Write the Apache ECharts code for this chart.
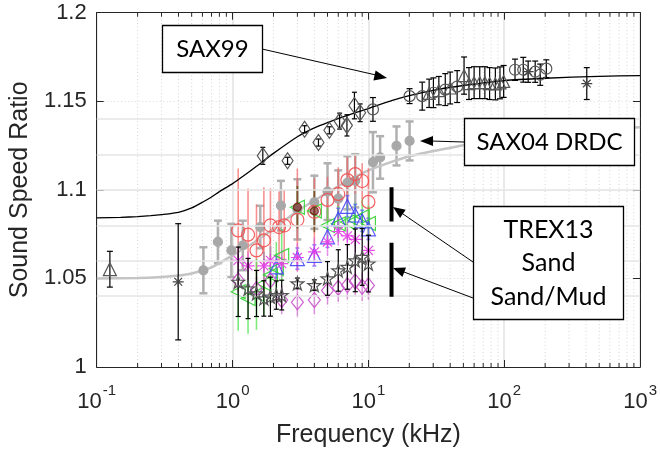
<!DOCTYPE html>
<html><head><meta charset="utf-8">
<script src="https://cdn.jsdelivr.net/npm/echarts@6/dist/echarts.min.js"></script>
<style>html,body{margin:0;padding:0;background:#fff}#c{width:660px;height:453px}</style>
</head><body><div id="c"></div>
<script>
// ---------- data (frequency kHz, sound speed ratio, error half-width) ----------
const sax99Curve = [[0.1,1.0842],[0.15,1.0845],[0.2,1.0849],[0.25,1.0854],[0.3,1.0860],[0.4,1.0873],[0.5,1.0898],[0.6,1.0930],[0.7,1.0960],[0.8,1.0990],[1,1.1035],[1.2,1.1078],[1.5,1.1133],[2,1.1206],[3,1.1300],[4,1.1350],[5,1.1380],[7,1.1420],[10,1.1459],[15,1.1505],[20,1.1532],[30,1.1562],[50,1.1589],[100,1.1617],[200,1.1630],[500,1.1641],[1000,1.1645]];
const sax04Curve = [[0.1,1.0499],[0.2,1.0502],[0.3,1.0508],[0.4,1.0516],[0.5,1.0528],[0.7,1.0562],[1,1.0630],[1.5,1.0713],[2,1.0780],[3,1.0880],[5,1.0985],[7,1.1050],[10,1.1110],[20,1.1190],[50,1.1252],[100,1.1297],[200,1.1325],[500,1.1342],[1000,1.1353]];

const sax99Diamonds = [[1.67,1.1192,0.0048],[2.54,1.1164,0.002],[3.39,1.1342,0.002],[4.29,1.1267,0.002],[5.16,1.1336,0.002],[6.14,1.1388,0.0045],[6.95,1.1364,0.006],[7.89,1.1476,0.0075],[8.69,1.1435,0.005]];
const sax99Circles = [[10.8,1.1454,0.0067],[20.1,1.1529,0.0042],[24.9,1.1529,0.0079],[30.1,1.1548,0.0084],[36.8,1.1566,0.009],[45.0,1.1583,0.009],[120,1.1678,0.006],[138,1.1678,0.007],[169,1.1667,0.006],[184,1.1650,0.006],[204,1.1684,0.005]];
const sax99Triangles = [[28,1.1545,0.008],[33,1.1560,0.008],[40,1.1575,0.009],[50.6,1.1645,0.0105],[55,1.1600,0.009],[60,1.1605,0.009],[66,1.1605,0.009],[72,1.1605,0.009],[78,1.1600,0.009],[86,1.1598,0.009],[93,1.1604,0.009],[99,1.1612,0.009]];
const sax99Stars = [[150,1.1667,0.006],[405,1.1600,0.009]];
const lowFreqStar = [[0.398,1.0481,0.0328]];
const lowFreqTriangle = [[0.125,1.0552,0.0101]];

const sax04Points = [[0.61,1.0546,0.013],[0.78,1.0706,0.012],[0.98,1.0658,0.015],[1.19,1.0686,0.014],[1.60,1.0790,0.012],[2.27,1.0911,0.014],[3.0,1.0890,0.017],[4.0,1.0930,0.015],[5.0,1.0990,0.016],[6.0,1.0950,0.016],[7.0,1.1040,0.015],[8.0,1.1051,0.015],[10.8,1.1156,0.017],[12.2,1.1183,0.012],[16.1,1.1248,0.011],[20.1,1.1276,0.011]];

const trexRedCircles = [[1.1,1.0771,0.035],[1.3,1.0747,0.026],[1.5,1.0658,0.026],[1.7,1.0715,0.03],[1.9,1.0799,0.021],[2.2,1.0790,0.02],[2.4,1.0799,0.02],[3.0,1.0831,0.029],[4.0,1.0876,0.019],[5.0,1.0943,0.013],[6.0,1.0977,0.015],[7.0,1.1055,0.013],[8.0,1.1089,0.011],[9.0,1.1050,0.01],[10.0,1.0932,0.019]];
const trexDarkRed = [[3.0,1.0902,0.012],[4.0,1.0881,0.012]];
const trexGreenTriangles = [[1.1,1.0425,0.022],[1.3,1.0387,0.02],[1.5,1.0410,0.02],[1.7,1.0470,0.018],[1.9,1.0520,0.016],[2.1,1.0556,0.015],[2.3,1.0630,0.015],[3.0,1.0902,0.012],[4.0,1.0881,0.012],[5.0,1.0799,0.01],[6.0,1.0808,0.01],[7.0,1.0819,0.01],[8.0,1.0827,0.01],[9.0,1.0850,0.01],[10.0,1.0810,0.01]];
const trexBlueTriangles = [[2.1,1.0565,0.006],[3.0,1.0612,0.006],[4.0,1.0630,0.006],[5.0,1.0735,0.006],[6.0,1.0836,0.006],[7.0,1.0907,0.006],[8.0,1.0858,0.006],[9.0,1.0825,0.006],[10.0,1.0780,0.006]];
const trexMagentaAsterisks = [[1.1,1.0602,0.008],[1.3,1.0571,0.008],[1.7,1.0571,0.008],[1.9,1.0602,0.008],[2.3,1.0584,0.008],[3.0,1.0618,0.008],[4.0,1.0650,0.008],[5.0,1.0706,0.008],[6.0,1.0765,0.008],[7.0,1.0740,0.008],[8.0,1.0720,0.008],[10.0,1.0658,0.008]];
const trexMagentaDiamonds = [[1.1,1.0490,0.007],[1.5,1.0440,0.007],[1.9,1.0490,0.007],[2.3,1.0378,0.008],[3.0,1.0365,0.008],[4.0,1.0378,0.008],[5.0,1.0432,0.008],[6.0,1.0447,0.008],[7.0,1.0462,0.008],[8.0,1.0483,0.008],[9.0,1.0453,0.008],[10.0,1.0460,0.008]];
const trexStars = [[1.1,1.0481,0.0196],[1.3,1.0443,0.017],[1.5,1.0415,0.013],[1.7,1.0387,0.010],[1.9,1.0397,0.011],[2.1,1.0406,0.008],[2.3,1.0406,0.0084],[3.0,1.0472,0.003],[4.0,1.0462,0.003],[5.0,1.0500,0.0095],[6.0,1.0545,0.0117],[7.0,1.0565,0.0126],[8.0,1.0602,0.0177],[9.0,1.0621,0.016],[10.0,1.0584,0.016]];

const trexSandBar = [[14.8,1.1014],[14.8,1.0821]];
const trexSandMudBar = [[14.8,1.0702],[14.8,1.0397]];

const overlayGridValues = [1.0383,1.0584,1.0786,1.0995,1.1197,1.1403];
const xMinorTicks = [0.2,0.3,0.4,0.5,0.6,0.7,0.8,0.9,2,3,4,5,6,7,8,9,20,30,40,50,60,70,80,90,200,300,400,500,600,700,800,900];
const yTicks = [1,1.05,1.1,1.15,1.2];

// ---------- chart ----------
const FONT = 'Liberation Sans';
const ANN = 'Lato';
const AXC = '#262626';
const chart = echarts.init(document.getElementById('c'), null, {renderer:'canvas'});
const yMin = 1, yMax = 1.2;

function errSeries(data, color, width, cap, z){
  return {type:'custom', coordinateSystem:'cartesian2d', z:z, silent:true, clip:false,
    data:data, encode:{x:0,y:1},
    renderItem:function(params, api){
      const f = api.value(0), v = api.value(1), e = api.value(2);
      const t = api.coord([f, v+e]), b = api.coord([f, v-e]);
      const ch = [{type:'line', shape:{x1:t[0],y1:t[1],x2:b[0],y2:b[1]}, style:{stroke:color, lineWidth:width}}];
      if (cap>0){
        ch.push({type:'line', shape:{x1:t[0]-cap,y1:t[1],x2:t[0]+cap,y2:t[1]}, style:{stroke:color, lineWidth:width}});
        ch.push({type:'line', shape:{x1:b[0]-cap,y1:b[1],x2:b[0]+cap,y2:b[1]}, style:{stroke:color, lineWidth:width}});
      }
      return {type:'group', children:ch};
    }};
}
function markers(data, symbol, size, stroke, fill, z, rotate, bw){
  return {type:'scatter', data:data.map(d=>[d[0],d[1]]), symbol:symbol, symbolSize:size, symbolRotate:rotate||0,
    z:z, silent:true, itemStyle:{color:fill, borderColor:stroke, borderWidth:bw||1.2, opacity:1}};
}
const ASTER = 'path://M5,0L5,10M0,5L10,5M1.5,1.5L8.5,8.5M1.5,8.5L8.5,1.5';
const STAR = 'path://M50,0L61.2,34.6L97.6,34.5L68.1,55.9L79.4,90.5L50,69L20.6,90.5L31.9,55.9L2.4,34.5L38.8,34.6Z';
const NONE = 'rgba(0,0,0,0)';

const series = [
  {type:'custom', z:0, silent:true, clip:false, data:xMinorTicks.map(v=>[v,1]), encode:{x:0,y:1},
    renderItem:function(params, api){
      const x = api.value(0);
      const b = api.coord([x,yMin]), t = api.coord([x,yMax]);
      return {type:'group', children:[
        {type:'line', shape:{x1:b[0],y1:b[1],x2:t[0],y2:t[1]}, style:{stroke:'#d4d4d4', lineWidth:1, lineDash:[1,2.5]}},
        {type:'line', shape:{x1:b[0],y1:b[1],x2:b[0],y2:b[1]-4}, style:{stroke:AXC, lineWidth:1}},
        {type:'line', shape:{x1:t[0],y1:t[1],x2:t[0],y2:t[1]+4}, style:{stroke:AXC, lineWidth:1}}
      ]};
    }},
  {type:'line', data:[], markLine:{silent:true, symbol:'none', label:{show:false},
    lineStyle:{color:'#e4e4e4', width:1.5, type:'solid'}, data:overlayGridValues.map(v=>({yAxis:v}))}},
  // SAX04 DRDC
  {type:'line', data:sax04Curve, smooth:0.2, symbol:'none', z:2, silent:true, lineStyle:{color:'#c4c4c4', width:2.5}},
  errSeries(sax04Points, '#b0b0b0', 2.5, 4, 2),
  markers(sax04Points, 'circle', 9, '#a8a8a8', '#a8a8a8', 3),
  // SAX99 curve
  {type:'line', data:sax99Curve, smooth:0.2, symbol:'none', z:5, silent:true, lineStyle:{color:'#000', width:1.3}},
  // TREX13
  errSeries(trexRedCircles, 'rgba(245,100,100,0.7)', 1.6, 0, 3),
  errSeries(trexGreenTriangles, 'rgba(70,225,70,0.7)', 1.6, 0, 3),
  errSeries(trexBlueTriangles, 'rgba(90,90,255,0.7)', 1.5, 2, 3),
  errSeries(trexMagentaAsterisks, 'rgba(225,90,225,0.65)', 1.5, 0, 3),
  errSeries(trexMagentaDiamonds, 'rgba(200,90,200,0.65)', 1.5, 0, 3),
  errSeries(trexDarkRed, 'rgba(140,30,30,0.7)', 1.5, 0, 3),
  markers(trexRedCircles, 'circle', 13, 'rgba(240,80,80,0.9)', NONE, 4),
  markers(trexGreenTriangles, 'triangle', 14, 'rgba(50,210,50,0.9)', NONE, 4, 90),
  markers(trexBlueTriangles, 'triangle', 14, 'rgba(70,70,255,0.9)', NONE, 4),
  markers(trexMagentaAsterisks, ASTER, 13, 'rgba(230,60,230,0.9)', NONE, 4),
  markers(trexMagentaDiamonds, 'diamond', [12,15], 'rgba(200,80,200,0.9)', NONE, 4),
  markers(trexDarkRed, 'circle', 8, 'rgba(120,20,20,0.8)', 'rgba(120,30,30,0.6)', 4),
  errSeries(trexStars, '#000', 1.2, 2.5, 5),
  markers(trexStars, STAR, 13, '#555', NONE, 5),
  {type:'line', data:trexSandBar, symbol:'none', z:6, silent:true, lineStyle:{color:'#000', width:4}},
  {type:'line', data:trexSandMudBar, symbol:'none', z:6, silent:true, lineStyle:{color:'#000', width:4}},
  // SAX99 data
  errSeries(sax99Diamonds, '#000', 1.2, 2.5, 6),
  errSeries(sax99Circles, '#000', 1.2, 3, 6),
  errSeries(sax99Triangles, '#000', 1.2, 3, 6),
  errSeries(sax99Stars, '#000', 1.2, 3, 6),
  errSeries(lowFreqStar, '#000', 1.2, 3, 6),
  errSeries(lowFreqTriangle, '#000', 1.2, 3, 6),
  markers(sax99Diamonds, 'diamond', [11,16], '#555', NONE, 7),
  markers(sax99Circles, 'circle', 11, '#555', NONE, 7),
  markers(sax99Triangles, 'triangle', 12, '#555', NONE, 7),
  markers(sax99Stars, ASTER, 11, '#444', NONE, 7),
  markers(lowFreqStar, ASTER, 11, '#444', NONE, 7),
  markers(lowFreqTriangle, 'triangle', 13, '#555', NONE, 7)
];

const labelRich = {
  b:{fontSize:22, fontFamily:FONT, color:AXC, lineHeight:30, verticalAlign:'bottom'},
  s:{fontSize:15, fontFamily:FONT, color:AXC, lineHeight:30, verticalAlign:'top', padding:[0,0,0,1]}
};

const option = {
  backgroundColor:'#fff',
  animation:false,
  grid:{left:94, right:17, top:12.7, bottom:84, containLabel:false},
  xAxis:[
    {type:'log', logBase:10, min:0.1, max:1000, position:'bottom',
     name:'Frequency (kHz)', nameLocation:'middle', nameGap:56,
     nameTextStyle:{fontFamily:FONT, fontSize:25, color:AXC},
     axisLine:{show:true, lineStyle:{color:AXC, width:1}},
     axisTick:{show:true, inside:true, length:7, lineStyle:{color:AXC}},
     axisLabel:{show:true, margin:16, formatter:function(v){ const e=Math.round(Math.log10(v)); return '{b|10}{s|'+e+'}'; }, rich:labelRich},
     splitLine:{show:true, lineStyle:{color:'#e2e2e2', width:1.5, type:'solid'}},
     minorTick:{show:false}},
    {type:'log', logBase:10, min:0.1, max:1000, position:'top',
     axisLine:{show:true, lineStyle:{color:AXC, width:1}},
     axisTick:{show:true, inside:true, length:7, lineStyle:{color:AXC}},
     axisLabel:{show:false}, splitLine:{show:false}}
  ],
  yAxis:[
    {type:'value', min:1, max:1.2, interval:0.05, position:'left',
     name:'Sound Speed Ratio', nameLocation:'middle', nameGap:51,
     nameTextStyle:{fontFamily:FONT, fontSize:25, color:AXC},
     axisLine:{show:true, lineStyle:{color:AXC, width:1}},
     axisTick:{show:true, inside:true, length:7, lineStyle:{color:AXC}},
     axisLabel:{margin:10, fontFamily:FONT, fontSize:22, color:AXC, formatter:v=>String(parseFloat(v.toFixed(2)))},
     splitLine:{show:true, lineStyle:{color:'#dadada', type:[1,2.5], width:1}}},
    {type:'value', min:1, max:1.2, interval:0.05, position:'right',
     axisLine:{show:true, lineStyle:{color:AXC, width:1}},
     axisTick:{show:true, inside:true, length:7, lineStyle:{color:AXC}},
     axisLabel:{show:false}, splitLine:{show:false}}
  ],
  series:series,
  graphic:[
    // SAX99 annotation
    {type:'line', z:20, shape:{x1:262,y1:49,x2:376,y2:75}, style:{stroke:'#000', lineWidth:1}},
    {type:'polygon', z:20, shape:{points:[[387,78],[373.4,80.4],[375.6,70.6]]}, style:{fill:'#000'}},
    {type:'rect', z:20, shape:{x:162.5,y:25.5,width:100,height:47}, style:{fill:'#fff', stroke:'#000', lineWidth:1.3}},
    {type:'text', z:21, x:212.5, y:49, style:{text:'SAX99', fontFamily:ANN, fontSize:24, fill:'#000', align:'center', verticalAlign:'middle'}},
    // SAX04 annotation
    {type:'line', z:20, shape:{x1:464,y1:142,x2:431,y2:141}, style:{stroke:'#000', lineWidth:1}},
    {type:'polygon', z:20, shape:{points:[[420,141],[433,136],[433,146]]}, style:{fill:'#000'}},
    {type:'rect', z:20, shape:{x:464.5,y:118.5,width:170,height:47}, style:{fill:'#fff', stroke:'#000', lineWidth:1.3}},
    {type:'text', z:21, x:549.5, y:142, style:{text:'SAX04 DRDC', fontFamily:ANN, fontSize:24, fill:'#000', align:'center', verticalAlign:'middle'}},
    // TREX13 annotation
    {type:'line', z:20, shape:{x1:473,y1:262,x2:403,y2:214}, style:{stroke:'#000', lineWidth:1}},
    {type:'polygon', z:20, shape:{points:[[393,207],[405.7,209.7],[400.1,217.9]]}, style:{fill:'#000'}},
    {type:'line', z:20, shape:{x1:473,y1:298,x2:404,y2:272}, style:{stroke:'#000', lineWidth:1}},
    {type:'polygon', z:20, shape:{points:[[393,268],[406,267.5],[402.4,276.9]]}, style:{fill:'#000'}},
    {type:'rect', z:20, shape:{x:473.5,y:206.5,width:150,height:113}, style:{fill:'#fff', stroke:'#000', lineWidth:1.3}},
    {type:'text', z:21, x:548.5, y:230, style:{text:'TREX13', fontFamily:ANN, fontSize:25, fill:'#000', align:'center', verticalAlign:'middle'}},
    {type:'text', z:21, x:548.5, y:263, style:{text:'Sand', fontFamily:ANN, fontSize:25, fill:'#000', align:'center', verticalAlign:'middle'}},
    {type:'text', z:21, x:548.5, y:297, style:{text:'Sand/Mud', fontFamily:ANN, fontSize:25, fill:'#000', align:'center', verticalAlign:'middle'}}
  ]
};
chart.setOption(option);
</script></body></html>
